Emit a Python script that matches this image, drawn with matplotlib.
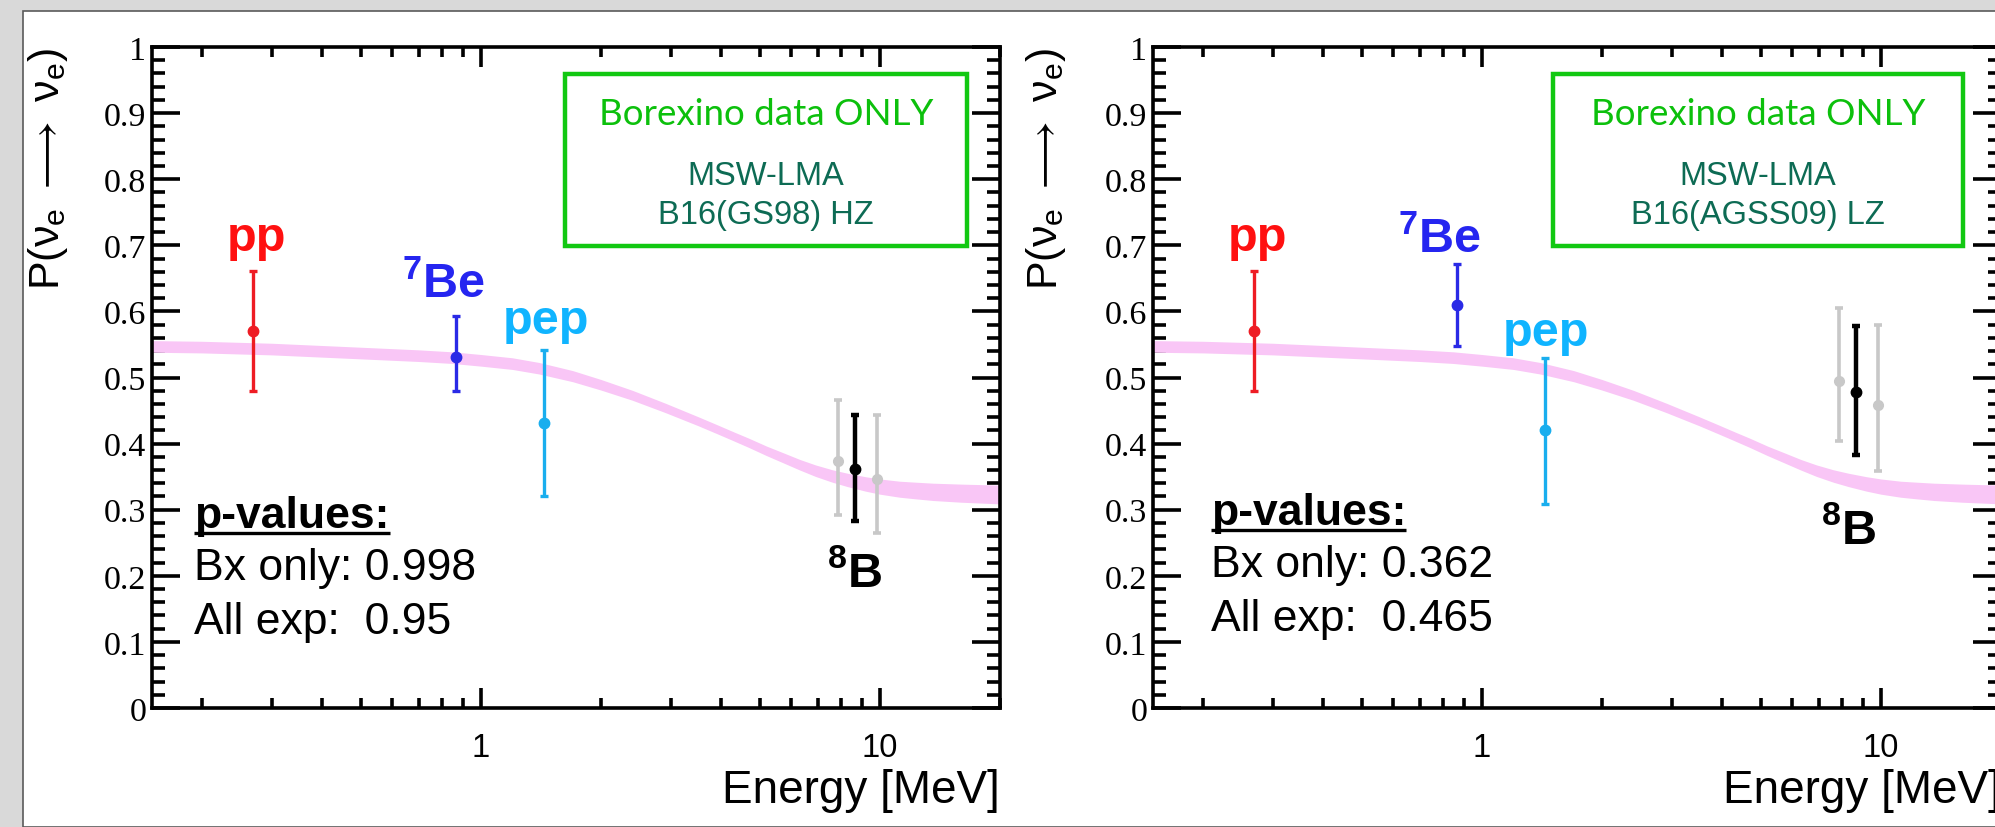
import matplotlib
matplotlib.use("Agg")
import matplotlib.pyplot as plt
from matplotlib.patches import Rectangle
from matplotlib.ticker import FixedLocator, NullFormatter, FixedFormatter, MultipleLocator

plt.rcParams['font.family'] = ['Liberation Sans', 'DejaVu Sans']
plt.rcParams['mathtext.fontset'] = 'custom'
plt.rcParams['mathtext.rm'] = 'Liberation Sans'
plt.rcParams['mathtext.it'] = 'Liberation Sans:italic'
plt.rcParams['mathtext.bf'] = 'Liberation Sans:bold'

# ---------------- data ----------------
band_E = [0.15, 0.2, 0.3, 0.5, 0.7, 0.85, 1.0, 1.2, 1.4, 1.7, 2.0, 2.4, 2.9, 3.5, 3.9, 4.3, 4.7,
          5.2, 5.7, 6.3, 6.9, 7.6, 8.3, 9.2, 10.0, 11.2, 12.3, 13.6, 16.0, 20.0]
band_center = [0.547, 0.546, 0.543, 0.537, 0.533, 0.530, 0.526, 0.521, 0.514, 0.502, 0.489, 0.473,
               0.454, 0.434, 0.422, 0.411, 0.401, 0.389, 0.379, 0.368, 0.359, 0.351, 0.345, 0.339,
               0.335, 0.331, 0.329, 0.327, 0.325, 0.323]
band_half = [0.0088, 0.0088, 0.0088, 0.0088, 0.0088, 0.0088, 0.0088, 0.0088, 0.0087, 0.0084,
             0.0080, 0.0075, 0.0071, 0.0068, 0.0068, 0.0068, 0.0070, 0.0072, 0.0076, 0.0080,
             0.0087, 0.0094, 0.0101, 0.0109, 0.0115, 0.0121, 0.0126, 0.0131, 0.0137, 0.0142]

source_names = ["pp", "7Be", "pep", "8B"]
source_E = [0.269, 0.866, 1.44, 8.65]
b8_gray_E = [7.87, 9.85]

# panel 1 : B16(GS98) HZ
p1_val = [0.571, 0.531, 0.431, 0.362]
p1_up = [0.090, 0.062, 0.111, 0.082]
p1_dn = [0.091, 0.051, 0.110, 0.079]
p1_gray_val = [0.374, 0.347]
p1_gray_up = [0.092, 0.096]
p1_gray_dn = [0.082, 0.082]

# panel 2 : B16(AGSS09) LZ
p2_val = [0.570, 0.610, 0.420, 0.478]
p2_up = [0.091, 0.061, 0.110, 0.100]
p2_dn = [0.091, 0.062, 0.112, 0.096]
p2_gray_val = [0.495, 0.459]
p2_gray_up = [0.110, 0.120]
p2_gray_dn = [0.091, 0.100]

models = ["B16(GS98) HZ", "B16(AGSS09) LZ"]
pvals_bx = ["0.998", "0.362"]
pvals_all = ["0.95", "0.465"]

# label positions (E, P)
label_pos = [
    [(0.274, 0.693), (0.808, 0.622), (1.46, 0.567), (8.66, 0.185)],
    [(0.274, 0.693), (0.785, 0.690), (1.45, 0.549), (8.32, 0.250)],
]

ytick_vals = [0, 0.1, 0.2, 0.3, 0.4, 0.5, 0.6, 0.7, 0.8, 0.9, 1.0]
ytick_labels = ["0", "0.1", "0.2", "0.3", "0.4", "0.5", "0.6", "0.7", "0.8", "0.9", "1"]
xtick_major = [1, 10]
xtick_labels = ["1", "10"]
xtick_minor = [0.2, 0.3, 0.4, 0.5, 0.6, 0.7, 0.8, 0.9, 2, 3, 4, 5, 6, 7, 8, 9, 20]

colors = ["#ee1c24", "#2a2ae6", "#19aeee", "#000000"]
label_colors = ["#ff1010", "#2525f0", "#10b4ff", "#000000"]
gray = "#c8c8c8"
pink = "#f9c6f6"

W, H = 1995, 828
fig = plt.figure(figsize=(W / 100, H / 100), dpi=100)
fig.patch.set_facecolor("#d9d9d9")
bg = Rectangle((23 / W, 0), 1 - 23 / W + 0.01, (H - 12) / H, transform=fig.transFigure,
               facecolor="white", edgecolor="#5a5a5a", linewidth=1.2, zorder=-10)
fig.patches.append(bg)

ax_w = 848 / W
ax_h = 661 / H
ax_b = (H - 709) / H
lefts = [152 / W, 1153 / W]

panels = [
    (p1_val, p1_up, p1_dn, p1_gray_val, p1_gray_up, p1_gray_dn),
    (p2_val, p2_up, p2_dn, p2_gray_val, p2_gray_up, p2_gray_dn),
]
pv_x = [0.050, 0.068]
pv_y = [(0.274, 0.195, 0.114), (0.278, 0.200, 0.118)]
box_x = [(0.487, 0.961), (0.472, 0.955)]

ylabel = r"P($\mathrm{\nu}_\mathrm{e}\ \longrightarrow\ \mathrm{\nu}_\mathrm{e}$)"

axes = []
for i in range(2):
    ax = fig.add_axes([lefts[i], ax_b, ax_w, ax_h])
    axes.append(ax)
    ax.set_xscale("log")
    ax.set_xlim(0.15, 20)
    ax.set_ylim(0, 1)
    ax.patch.set_alpha(0)

    ax.fill_between(band_E, [c - h for c, h in zip(band_center, band_half)],
                    [c + h for c, h in zip(band_center, band_half)],
                    color=pink, linewidth=0, zorder=2)

    val, up, dn, gval, gup, gdn = panels[i]
    ax.errorbar(b8_gray_E, gval, yerr=[gdn, gup], fmt="o", color=gray, ecolor=gray,
                markersize=7, elinewidth=2.6, capsize=3, capthick=2.6, zorder=3)
    for k in range(4):
        lw = 3.2 if k == 3 else 2.4
        ax.errorbar([source_E[k]], [val[k]], yerr=[[dn[k]], [up[k]]], fmt="o", color=colors[k],
                    ecolor=colors[k], markersize=7.5, elinewidth=lw, capsize=3, capthick=lw, zorder=4)

    # source labels
    texts = ["pp", r"$\mathbf{^{7}Be}$", "pep", r"$\mathbf{^{8}B}$"]
    for k in range(4):
        ex, ey = label_pos[i][k]
        ax.text(ex, ey, texts[k], color=label_colors[k], fontsize=35, fontweight="bold",
                ha="center", va="baseline", zorder=5)

    # green box
    bx0, bx1 = box_x[i]
    ax.add_patch(Rectangle((bx0, 0.6994), bx1 - bx0, 0.959 - 0.6994, transform=ax.transAxes,
                           facecolor="none", edgecolor="#12c812", linewidth=3.2, zorder=6))
    cx = (bx0 + bx1) / 2
    ax.text(cx, 0.899, "Borexino data ONLY", transform=ax.transAxes, color="#0cc00c",
            fontsize=26.5, family=["Lato", "DejaVu Sans"], ha="center", va="center", zorder=6)
    ax.text(cx, 0.805, "MSW-LMA", transform=ax.transAxes, color="#0d6b54",
            fontsize=23.5, ha="center", va="center", zorder=6)
    ax.text(cx, 0.747, models[i], transform=ax.transAxes, color="#0d6b54",
            fontsize=23.5, ha="center", va="center", zorder=6)

    # p-values
    px = pv_x[i]
    ax.text(px, pv_y[i][0], "p-values:", transform=ax.transAxes, fontsize=32,
            fontweight="bold", ha="left", va="baseline", zorder=6)
    ax.text(px, pv_y[i][1], "Bx only: " + pvals_bx[i], transform=ax.transAxes, fontsize=32,
            ha="left", va="baseline", zorder=6)
    ax.text(px, pv_y[i][2], "All exp:  " + pvals_all[i], transform=ax.transAxes, fontsize=32,
            ha="left", va="baseline", zorder=6)

    # axes labels
    ax.text(-0.1226 - 0.004 * i, 1.0, ylabel,
            transform=ax.transAxes, rotation=90, fontsize=31, ha="center", va="top")
    ax.text(1.0, -0.142, "Energy [MeV]", transform=ax.transAxes, fontsize=33,
            ha="right", va="baseline")

    # ticks
    ax.yaxis.set_major_locator(FixedLocator(ytick_vals))
    ax.yaxis.set_major_formatter(FixedFormatter(ytick_labels))
    ax.yaxis.set_minor_locator(MultipleLocator(0.02))
    ax.xaxis.set_major_locator(FixedLocator(xtick_major))
    ax.xaxis.set_major_formatter(FixedFormatter(xtick_labels))
    ax.xaxis.set_minor_locator(FixedLocator(xtick_minor))
    ax.xaxis.set_minor_formatter(NullFormatter())
    ax.tick_params(axis="both", which="both", direction="in", top=True, right=True, width=2.6,
                   color="black")
    ax.tick_params(axis="y", which="major", length=20, pad=4, labelsize=24.5)
    ax.tick_params(axis="y", which="minor", length=9.5)
    ax.tick_params(axis="x", which="major", length=14.5, pad=17, labelsize=23.5)
    ax.tick_params(axis="x", which="minor", length=7)
    for lab in ax.get_yticklabels():
        lab.set_family(["Liberation Serif", "DejaVu Serif"])
    for sp in ax.spines.values():
        sp.set_linewidth(2.6)
        sp.set_zorder(7)

# underline for p-values
fig.canvas.draw()
r = fig.canvas.get_renderer()
for i, ax in enumerate(axes):
    for t in ax.texts:
        if t.get_text() == "p-values:":
            bb = t.get_window_extent(renderer=r)
            inv = ax.transAxes.inverted()
            (x0, _), (x1, _) = inv.transform([(bb.x0, bb.y0), (bb.x1, bb.y0)])
            y0 = pv_y[i][0] - 6 / 661
            ax.plot([x0, x1], [y0, y0], transform=ax.transAxes, color="black", lw=2.4,
                    solid_capstyle="butt", clip_on=False, zorder=6)

fig.savefig("out.png", dpi=100, facecolor=fig.get_facecolor())
